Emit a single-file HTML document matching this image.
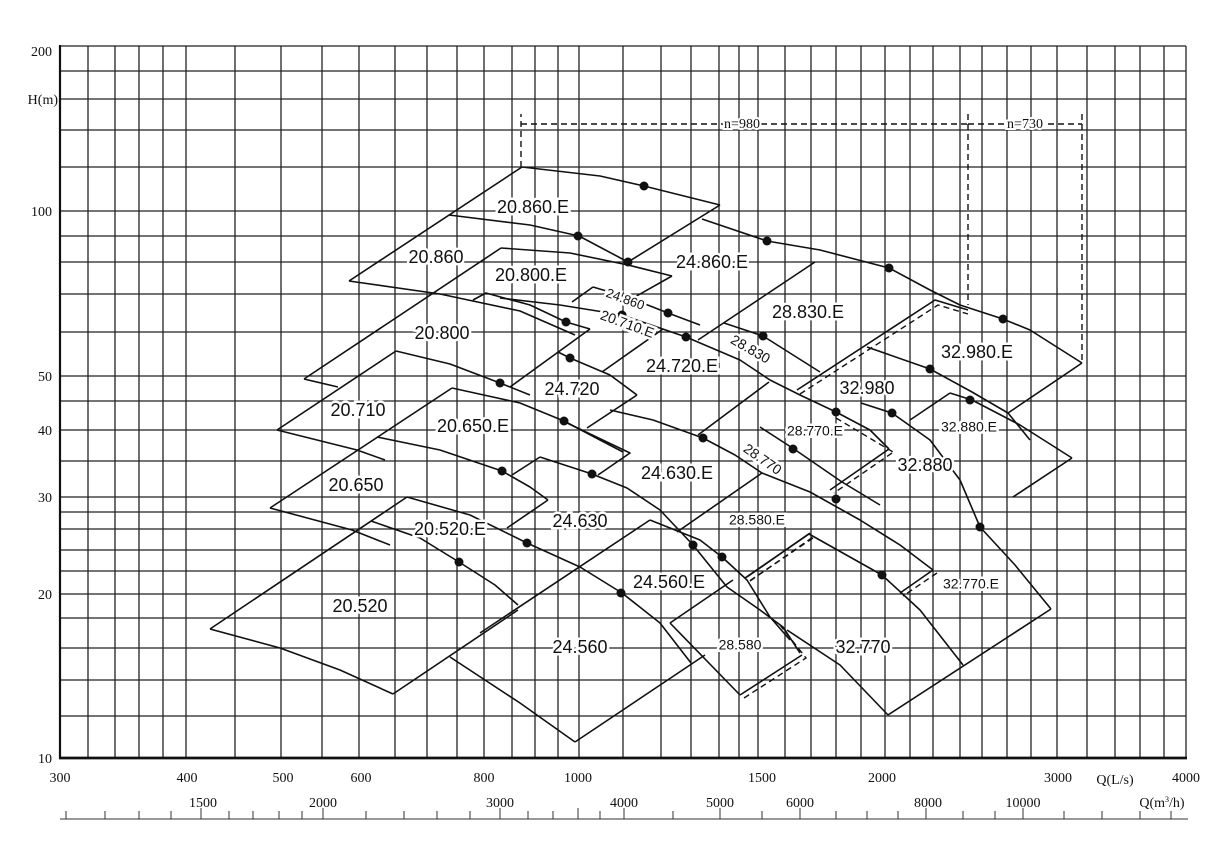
<!DOCTYPE html>
<html><head><meta charset="utf-8"><style>
html,body{margin:0;padding:0;background:#fff;}
svg{display:block;}
.g line{stroke:#222;stroke-width:1.3;}
.c{fill:none;stroke:#111;stroke-width:1.6;stroke-linejoin:round;}
.d{fill:none;stroke:#111;stroke-width:1.4;stroke-dasharray:6,4;}
.lb{font-family:"Liberation Sans",sans-serif;font-size:18px;fill:#111;paint-order:stroke;stroke:#fff;stroke-width:5px;text-anchor:middle;dominant-baseline:middle;}
.sm{font-size:14px;}
.ax{font-family:"Liberation Serif",serif;font-size:14px;fill:#111;}
</style></head><body>
<svg width="1222" height="846" viewBox="0 0 1222 846" xmlns="http://www.w3.org/2000/svg">
<g class="g">
<line x1="88" y1="46" x2="88" y2="758"/><line x1="115" y1="46" x2="115" y2="758"/><line x1="139" y1="46" x2="139" y2="758"/><line x1="163" y1="46" x2="163" y2="758"/><line x1="186" y1="46" x2="186" y2="758"/><line x1="235" y1="46" x2="235" y2="758"/><line x1="281" y1="46" x2="281" y2="758"/><line x1="322" y1="46" x2="322" y2="758"/><line x1="359" y1="46" x2="359" y2="758"/><line x1="395" y1="46" x2="395" y2="758"/><line x1="427" y1="46" x2="427" y2="758"/><line x1="457" y1="46" x2="457" y2="758"/><line x1="484" y1="46" x2="484" y2="758"/><line x1="512" y1="46" x2="512" y2="758"/><line x1="535" y1="46" x2="535" y2="758"/><line x1="558" y1="46" x2="558" y2="758"/><line x1="579" y1="46" x2="579" y2="758"/><line x1="623" y1="46" x2="623" y2="758"/><line x1="661" y1="46" x2="661" y2="758"/><line x1="691" y1="46" x2="691" y2="758"/><line x1="719" y1="46" x2="719" y2="758"/><line x1="739" y1="46" x2="739" y2="758"/><line x1="758" y1="46" x2="758" y2="758"/><line x1="785" y1="46" x2="785" y2="758"/><line x1="811" y1="46" x2="811" y2="758"/><line x1="836" y1="46" x2="836" y2="758"/><line x1="861" y1="46" x2="861" y2="758"/><line x1="885" y1="46" x2="885" y2="758"/><line x1="910" y1="46" x2="910" y2="758"/><line x1="933" y1="46" x2="933" y2="758"/><line x1="960" y1="46" x2="960" y2="758"/><line x1="982" y1="46" x2="982" y2="758"/><line x1="1007" y1="46" x2="1007" y2="758"/><line x1="1031" y1="46" x2="1031" y2="758"/><line x1="1057" y1="46" x2="1057" y2="758"/><line x1="1087" y1="46" x2="1087" y2="758"/><line x1="1115" y1="46" x2="1115" y2="758"/><line x1="1140" y1="46" x2="1140" y2="758"/><line x1="1164" y1="46" x2="1164" y2="758"/><line x1="1186" y1="46" x2="1186" y2="758"/>
<line x1="60" y1="46" x2="1186" y2="46"/><line x1="60" y1="71" x2="1186" y2="71"/><line x1="60" y1="99" x2="1186" y2="99"/><line x1="60" y1="130" x2="1186" y2="130"/><line x1="60" y1="167" x2="1186" y2="167"/><line x1="60" y1="211" x2="1186" y2="211"/><line x1="60" y1="236" x2="1186" y2="236"/><line x1="60" y1="262" x2="1186" y2="262"/><line x1="60" y1="294" x2="1186" y2="294"/><line x1="60" y1="332" x2="1186" y2="332"/><line x1="60" y1="376" x2="1186" y2="376"/><line x1="60" y1="401" x2="1186" y2="401"/><line x1="60" y1="430" x2="1186" y2="430"/><line x1="60" y1="461" x2="1186" y2="461"/><line x1="60" y1="497" x2="1186" y2="497"/><line x1="60" y1="512" x2="1186" y2="512"/><line x1="60" y1="529" x2="1186" y2="529"/><line x1="60" y1="550" x2="1186" y2="550"/><line x1="60" y1="571" x2="1186" y2="571"/><line x1="60" y1="594" x2="1186" y2="594"/><line x1="60" y1="618" x2="1186" y2="618"/><line x1="60" y1="648" x2="1186" y2="648"/><line x1="60" y1="680" x2="1186" y2="680"/><line x1="60" y1="716" x2="1186" y2="716"/>
</g>
<line x1="60" y1="45" x2="60" y2="759" stroke="#111" stroke-width="2.2"/>
<line x1="59" y1="758" x2="1187" y2="758" stroke="#111" stroke-width="2.8"/>

<polyline class="d" points="521,167 521,114"/>
<polyline class="d" points="521,124 968,124"/>
<polyline class="d" points="968,114 968,305"/>
<polyline class="d" points="968,124 1082,124"/>
<polyline class="d" points="1082,114 1082,363"/>
<text x="742" y="128" class="ax" font-size="11" text-anchor="middle" style="paint-order:stroke;stroke:#fff;stroke-width:4px">n=980</text>
<text x="1025" y="128" class="ax" font-size="11" text-anchor="middle" style="paint-order:stroke;stroke:#fff;stroke-width:4px">n=730</text>

<g class="c">
<polyline points="522,167 600,176 644,186 720,205"/>
<polyline points="720,205 628,262"/>
<polyline points="449,215 530,225 579,236 628,262"/>
<polyline points="522,167 349,281"/>
<polyline points="349,281 440,294 520,311 575,335"/>
<polyline points="501,248 570,253 628,265 672,276"/>
<polyline points="672,276 633,298"/>
<polyline points="501,248 304,379"/>
<polyline points="473,300 486,293 530,305 566,322 590,329"/>
<polyline points="304,379 338,387"/>
<polyline points="396,351 450,364 500,383 530,395"/>
<polyline points="396,351 277,430"/>
<polyline points="277,430 357,450 385,460"/>
<polyline points="452,388 520,403 564,421 600,440 623,452"/>
<polyline points="452,388 270,508"/>
<polyline points="377,437 440,450 502,471 530,487 548,500"/>
<polyline points="548,500 507,528"/>
<polyline points="270,508 352,530 390,545"/>
<polyline points="407,497 470,515 527,543 580,567 622,593 660,623 691,663"/>
<polyline points="407,497 210,629"/>
<polyline points="371,521 420,538 459,562 495,585 518,605"/>
<polyline points="210,629 280,648 340,670 393,694"/>
<polyline points="393,694 518,610"/>
<polyline points="540,457 512,475"/>
<polyline points="540,457 592,474 627,488 660,510 693,545 727,587 760,610 783,627 800,653"/>
<polyline points="650,520 700,540 722,557 747,580 770,617 790,640"/>
<polyline points="650,520 480,633"/>
<polyline points="733,580 670,623"/>
<polyline points="670,623 740,695"/>
<polyline points="740,695 802,655"/>
<polyline points="450,657 520,703 575,742"/>
<polyline points="575,742 705,655"/>
<polyline points="593,287 572,302"/>
<polyline points="593,287 630,298 668,313 700,325"/>
<polyline points="702,219 767,241 820,250 889,268 930,290 960,305 1003,319 1030,330 1082,363"/>
<polyline points="815,262 698,340"/>
<polyline points="1082,363 1008,413"/>
<polyline points="500,298 560,305 622,315 686,337 740,360 770,380 800,395 836,412 870,430 889,449"/>
<polyline points="724,323 763,336 820,372"/>
<polyline points="663,329 602,372"/>
<polyline points="558,352 570,358 610,375 637,395"/>
<polyline points="637,395 587,428"/>
<polyline points="590,329 510,387"/>
<polyline points="769,382 698,435"/>
<polyline points="610,410 653,420 703,438 735,455 762,473 810,492 860,520 900,545 933,570"/>
<polyline points="565,422 630,453 598,475"/>
<polyline points="762,473 677,532"/>
<polyline points="760,427 794,449 842,482 880,505"/>
<polyline points="809,534 882,575 920,610 963,665"/>
<polyline points="809,534 745,578"/>
<polyline points="1051,609 888,715"/>
<polyline points="787,630 840,665 888,715"/>
<polyline points="933,570 900,593"/>
<polyline points="797,390 935,300 968,310"/>
<polyline points="867,347 930,369 972,392 1008,413 1030,440"/>
<polyline points="950,393 972,400 1020,425 1072,458"/>
<polyline points="1072,458 1013,497"/>
<polyline points="950,393 910,420"/>
<polyline points="861,403 892,413 930,440 960,480 980,527 1015,565 1051,609"/>
<polyline points="889,449 830,490"/>
<polyline points="747,577 810,533"/>
</g>
<g class="d">
<polyline points="800,394 938,305 968,314"/>
<polyline points="813,538 748,582"/>
<polyline points="744,698 806,658 780,625"/>
<polyline points="892,453 834,493"/>
<polyline points="750,581 813,537"/>
<polyline points="937,573 903,596"/>
<polyline points="836,418 893,452"/>
</g>

<g fill="#111">
<circle cx="644" cy="186" r="4.5"/><circle cx="578" cy="236" r="4.5"/><circle cx="628" cy="262" r="4.5"/><circle cx="767" cy="241" r="4.5"/><circle cx="889" cy="268" r="4.5"/><circle cx="1003" cy="319" r="4.5"/><circle cx="622" cy="315" r="4.5"/><circle cx="668" cy="313" r="4.5"/><circle cx="686" cy="337" r="4.5"/><circle cx="566" cy="322" r="4.5"/><circle cx="570" cy="358" r="4.5"/><circle cx="500" cy="383" r="4.5"/><circle cx="564" cy="421" r="4.5"/><circle cx="763" cy="336" r="4.5"/><circle cx="836" cy="412" r="4.5"/><circle cx="703" cy="438" r="4.5"/><circle cx="793" cy="449" r="4.5"/><circle cx="592" cy="474" r="4.5"/><circle cx="502" cy="471" r="4.5"/><circle cx="527" cy="543" r="4.5"/><circle cx="459" cy="562" r="4.5"/><circle cx="621" cy="593" r="4.5"/><circle cx="693" cy="545" r="4.5"/><circle cx="722" cy="557" r="4.5"/><circle cx="836" cy="499" r="4.5"/><circle cx="882" cy="575" r="4.5"/><circle cx="930" cy="369" r="4.5"/><circle cx="970" cy="400" r="4.5"/><circle cx="892" cy="413" r="4.5"/><circle cx="980" cy="527" r="4.5"/>
</g>

<g class="lb">
<text x="533" y="208">20.860.E</text>
<text x="436" y="258">20.860</text>
<text x="531" y="276">20.800.E</text>
<text x="442" y="334">20.800</text>
<text x="358" y="411">20.710</text>
<text x="473" y="427">20.650.E</text>
<text x="356" y="486">20.650</text>
<text x="450" y="530">20.520.E</text>
<text x="360" y="607">20.520</text>
<text x="712" y="263">24.860.E</text>
<text x="572" y="390">24.720</text>
<text x="682" y="367">24.720.E</text>
<text x="677" y="474">24.630.E</text>
<text x="580" y="522">24.630</text>
<text x="669" y="583">24.560.E</text>
<text x="580" y="648">24.560</text>
<text x="808" y="313">28.830.E</text>
<text x="750" y="350" class="sm" transform="rotate(30 750 350)">28.830</text>
<text x="762" y="460" class="sm" transform="rotate(35 762 460)">28.770</text>
<text x="815" y="432" class="sm">28.770.E</text>
<text x="757" y="521" class="sm">28.580.E</text>
<text x="740" y="646" class="sm">28.580</text>
<text x="977" y="353">32.980.E</text>
<text x="867" y="389">32.980</text>
<text x="969" y="428" class="sm">32.880.E</text>
<text x="925" y="466">32.880</text>
<text x="971" y="585" class="sm">32.770.E</text>
<text x="863" y="648">32.770</text>
<text x="625" y="300" font-size="13" transform="rotate(20 625 300)">24.860</text>
<text x="627" y="325" class="sm" transform="rotate(20 627 325)">20.710.E</text>
</g>

<g class="ax" text-anchor="end">
<text x="52" y="56">200</text><text x="58" y="104">H(m)</text><text x="52" y="216">100</text><text x="52" y="381">50</text><text x="52" y="435">40</text><text x="52" y="502">30</text><text x="52" y="599">20</text><text x="52" y="763">10</text>
</g>
<g class="ax" text-anchor="middle">
<text x="60" y="782">300</text><text x="187" y="782">400</text><text x="283" y="782">500</text><text x="361" y="782">600</text><text x="484" y="782">800</text><text x="578" y="782">1000</text><text x="762" y="782">1500</text><text x="882" y="782">2000</text><text x="1058" y="782">3000</text><text x="1115" y="784">Q(L/s)</text><text x="1186" y="782">4000</text>
<text x="203" y="807">1500</text><text x="323" y="807">2000</text><text x="500" y="807">3000</text><text x="624" y="807">4000</text><text x="720" y="807">5000</text><text x="800" y="807">6000</text><text x="928" y="807">8000</text><text x="1023" y="807">10000</text><text x="1162" y="807">Q(m<tspan font-size="8" dy="-5">3</tspan><tspan dy="5">/h)</tspan></text>
</g>
<line x1="60" y1="819" x2="1188" y2="819" stroke="#333" stroke-width="1"/>
<g stroke="#333" stroke-width="1">
<line x1="66" y1="811" x2="66" y2="819"/><line x1="105" y1="811" x2="105" y2="819"/><line x1="139" y1="811" x2="139" y2="819"/><line x1="171" y1="811" x2="171" y2="819"/><line x1="201" y1="808" x2="201" y2="819"/><line x1="229" y1="811" x2="229" y2="819"/><line x1="253" y1="811" x2="253" y2="819"/><line x1="279" y1="811" x2="279" y2="819"/><line x1="302" y1="811" x2="302" y2="819"/><line x1="323" y1="808" x2="323" y2="819"/><line x1="366" y1="811" x2="366" y2="819"/><line x1="404" y1="811" x2="404" y2="819"/><line x1="437" y1="811" x2="437" y2="819"/><line x1="470" y1="811" x2="470" y2="819"/><line x1="500" y1="808" x2="500" y2="819"/><line x1="528" y1="811" x2="528" y2="819"/><line x1="553" y1="811" x2="553" y2="819"/><line x1="578" y1="808" x2="578" y2="819"/><line x1="600" y1="811" x2="600" y2="819"/><line x1="624" y1="808" x2="624" y2="819"/><line x1="673" y1="811" x2="673" y2="819"/><line x1="720" y1="808" x2="720" y2="819"/><line x1="762" y1="811" x2="762" y2="819"/><line x1="800" y1="808" x2="800" y2="819"/><line x1="836" y1="811" x2="836" y2="819"/><line x1="867" y1="811" x2="867" y2="819"/><line x1="898" y1="811" x2="898" y2="819"/><line x1="926" y1="808" x2="926" y2="819"/><line x1="963" y1="811" x2="963" y2="819"/><line x1="995" y1="811" x2="995" y2="819"/><line x1="1023" y1="808" x2="1023" y2="819"/><line x1="1064" y1="811" x2="1064" y2="819"/><line x1="1102" y1="811" x2="1102" y2="819"/><line x1="1140" y1="811" x2="1140" y2="819"/><line x1="1171" y1="811" x2="1171" y2="819"/>
</g>
</svg>
</body></html>
